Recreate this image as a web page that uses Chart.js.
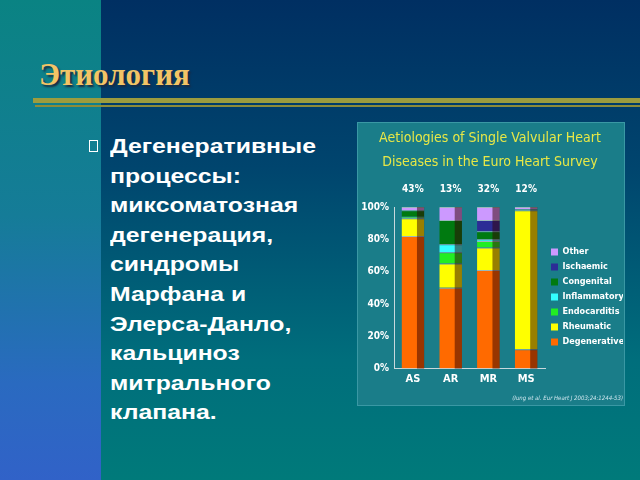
<!DOCTYPE html>
<html>
<head>
<meta charset="utf-8">
<script src="https://cdn.jsdelivr.net/npm/chart.js@4.4.1/dist/chart.umd.min.js"></script>
<style>
  html, body { margin: 0; padding: 0; }
  body { width: 640px; height: 480px; position: relative; overflow: hidden;
    background: linear-gradient(to bottom, #002f62 0%, #00456e 35%, #006e7c 75%, #007a7a 100%); }
  .strip { position: absolute; left: 0; top: 0; width: 101px; height: 480px;
    background: linear-gradient(to bottom, #0a8383 0%, #157c98 45%, #2a6ac0 80%, #3162c8 100%); }
  .heading { position: absolute; left: 39px; top: 57px; font-family: "Liberation Serif", serif;
    font-weight: bold; font-size: 31px; color: #f2c466; text-shadow: 2px 2px 2px #1a2a40; }
  .rule1 { position: absolute; left: 33px; top: 98px; width: 607px; height: 5px; background: #9c9c3e; }
  .rule2 { position: absolute; left: 35px; top: 105px; width: 605px; height: 2px; background: #8c8c3a; }
  .bullet { position: absolute; left: 89px; top: 140px; width: 9px; height: 12px; border: 1.5px solid #fff; box-sizing: border-box; }
  .text { position: absolute; left: 110px; top: 131px; font-family: "Liberation Sans", Arial, sans-serif;
    font-weight: bold; font-size: 21px; line-height: 29.6px; color: #fff;
    transform: scaleX(1.18); transform-origin: left top; }
  #wrap { position: absolute; left: 357px; top: 122px; width: 268px; height: 284px;
    background: #1a7d89; box-shadow: inset 0 0 0 1px #3a98a4; }
</style>
</head>
<body>
<div class="strip"></div>
<div class="heading">Этиология</div>
<div class="rule1"></div>
<div class="rule2"></div>
<div class="bullet"></div>
<div class="text">Дегенеративные<br>процессы:<br>миксоматозная<br>дегенерация,<br>синдромы<br>Марфана и<br>Элерса-Данло,<br>кальциноз<br>митрального<br>клапана.</div>
<div id="wrap"><canvas id="chart" width="268" height="284"></canvas></div>
<script>
const categories = ["AS", "AR", "MR", "MS"];
const shareLabels = ["43%", "13%", "32%", "12%"];
const yTicks = ["0%", "20%", "40%", "60%", "80%", "100%"];

const degenerative = [82, 50, 61, 12];
const rheumatic = [11, 15, 14, 86];
const endocarditis = [1, 7, 4, 0.5];
const inflammatory = [0, 5, 1, 0];
const congenital = [4, 15, 5, 0];
const ischaemic = [0, 0, 7, 0];
const other = [2, 8, 8, 1.5];

const font = "'Liberation Sans Narrow', 'DejaVu Sans Condensed', 'Roboto Condensed', 'Liberation Sans', Arial, sans-serif";

function series(label, data, color) {
  return {
    label: label,
    data: data.map((v) => (v > 0 ? v : null)),
    backgroundColor: color,
    borderColor: "rgba(210,210,210,0.7)",
    borderWidth: { top: 1, bottom: 0, left: 0, right: 0 },
    borderSkipped: false,
    barPercentage: 0.6,
    categoryPercentage: 1,
    xAxisID: "x",
  };
}

// darker right side of each bar, like the 3D look in the slide
const sideShade = {
  id: "sideShade",
  afterDatasetsDraw(chart) {
    const ctx = chart.ctx;
    ctx.save();
    ctx.fillStyle = "rgba(50,0,0,0.5)";
    chart.data.datasets.forEach((ds, i) => {
      chart.getDatasetMeta(i).data.forEach((bar, j) => {
        if (ds.data[j] == null) return;
        const { x, y, base, width } = bar.getProps(["x", "y", "base", "width"], true);
        const w = width * 0.32;
        ctx.fillRect(x + width / 2 - w, y, w, base - y);
      });
    });
    ctx.restore();
  },
};

const chart = new Chart(document.getElementById("chart"), {
  type: "bar",
  data: {
    labels: categories,
    datasets: [
      series("Degenerative", degenerative, "#ff6a00"),
      series("Rheumatic", rheumatic, "#ffff00"),
      series("Endocarditis", endocarditis, "#22ee22"),
      series("Inflammatory", inflammatory, "#33ffff"),
      series("Congenital", congenital, "#007a10"),
      series("Ischaemic", ischaemic, "#2c2c96"),
      series("Other", other, "#cc99ff"),
    ],
  },
  options: {
    responsive: false,
    animation: false,
    devicePixelRatio: 1,
    layout: { padding: { left: 0, right: 2, top: 4, bottom: 4 } },
    plugins: {
      title: {
        display: true,
        text: ["Aetiologies of Single Valvular Heart", "Diseases in the Euro Heart Survey"],
        color: "#e8e846",
        font: { family: font, size: 14, weight: "normal", lineHeight: 1.75 },
        padding: { top: 0, bottom: 4 },
      },
      subtitle: {
        display: true,
        position: "bottom",
        align: "end",
        text: "(Iung et al. Eur Heart J 2003;24:1244-53)",
        color: "#cfe6ee",
        font: { family: font, size: 6, style: "italic" },
        padding: { top: 8, bottom: 0, right: 4 },
      },
      legend: {
        position: "right",
        fullSize: false,
        maxWidth: 78,
        reverse: true,
        title: { display: true, text: " ", font: { size: 12 }, padding: 2 },
        labels: {
          color: "#ffffff",
          boxWidth: 7,
          boxHeight: 7,
          padding: 6,
          font: { family: font, size: 9, weight: "bold" },
          generateLabels(c) {
            return c.data.datasets.map((ds, i) => ({
              text: ds.label,
              fillStyle: ds.backgroundColor,
              strokeStyle: ds.backgroundColor,
              lineWidth: 0,
              fontColor: "#ffffff",
              datasetIndex: i,
            }));
          },
        },
      },
      tooltip: { enabled: false },
    },
    scales: {
      x: {
        stacked: true,
        grid: { display: false, drawTicks: true, tickLength: 3, color: "#cccccc" },
        border: { color: "#c8d8dc", width: 1 },
        ticks: { color: "#ffffff", font: { family: font, size: 11, weight: "bold" }, padding: 1 },
      },
      x2: {
        type: "category",
        position: "top",
        labels: categories,
        grid: { display: false },
        border: { display: false },
        ticks: {
          color: "#ffffff",
          font: { family: font, size: 10, weight: "bold" },
          padding: 4,
          callback: (v, i) => shareLabels[i],
        },
      },
      y: {
        stacked: true,
        min: 0,
        max: 100,
        afterFit: (s) => { s.width = 37; },
        grid: { display: false, drawTicks: true, tickLength: 3, color: "#cccccc" },
        border: { color: "#c8d8dc", width: 1 },
        ticks: {
          stepSize: 20,
          color: "#ffffff",
          font: { family: font, size: 10, weight: "bold" },
          padding: 2,
          callback: (v) => yTicks[v / 20],
        },
      },
    },
  },
  plugins: [sideShade],
});
</script>
</body>
</html>
